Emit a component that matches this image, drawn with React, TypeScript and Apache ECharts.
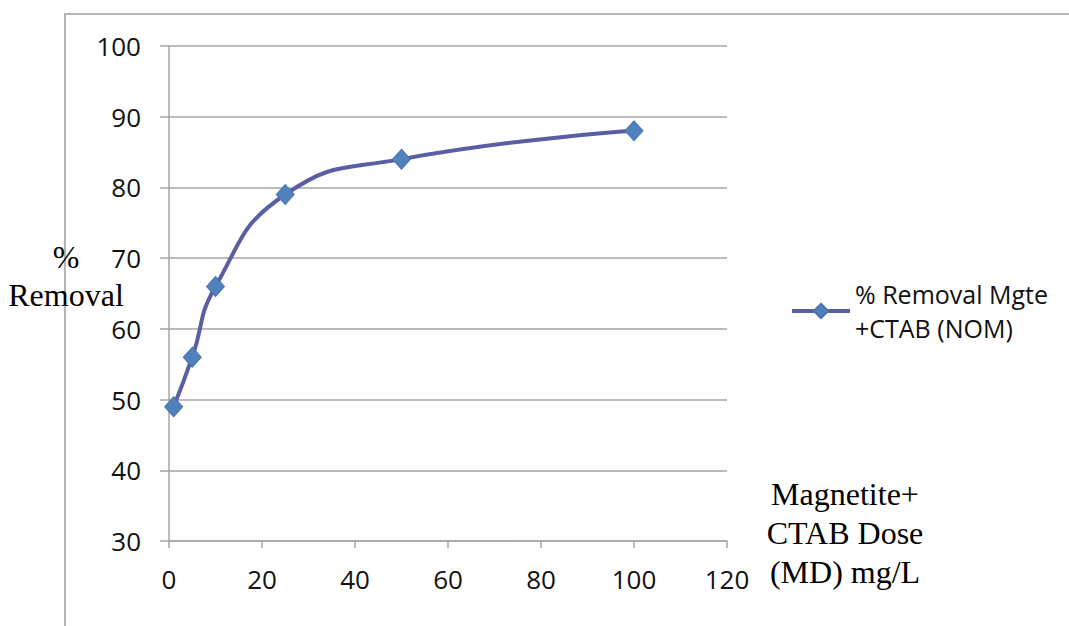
import React, { useEffect, useRef } from "react";
import * as echarts from "echarts";

// Magnetite + CTAB dose (mg/L) vs. % NOM removal
const doses = [1, 5, 10, 25, 50, 100];
const removal = [49, 56, 66, 79, 84, 88];
const seriesName = "% Removal Mgte\n+CTAB (NOM)";
const yTitle = "%\nRemoval";
const xTitle = "Magnetite+\nCTAB Dose\n(MD) mg/L";

const gridColor = "#a6a6a6";
const lineColor = "#5a5ea5";
const tickFont = "'Open Sans', 'Noto Sans', sans-serif";
const serifFont = "'Liberation Serif', 'Times New Roman', serif";

export default function App() {
  const ref = useRef<HTMLDivElement>(null);

  useEffect(() => {
    if (!ref.current) return;
    const chart = echarts.init(ref.current, undefined, { renderer: "svg" });
    chart.setOption({
      animation: false,
      backgroundColor: "#ffffff",
      grid: { left: 169, right: 342, top: 46, bottom: 85, containLabel: false },
      xAxis: {
        type: "value",
        min: 0,
        max: 120,
        interval: 20,
        axisLine: { show: true, lineStyle: { color: gridColor, width: 1.5 } },
        axisTick: { show: true, length: 7, lineStyle: { color: gridColor, width: 1.5 } },
        splitLine: { show: false },
        axisLabel: { color: "#111", fontFamily: tickFont, fontSize: 26, margin: 25 },
      },
      yAxis: {
        type: "value",
        min: 30,
        max: 100,
        interval: 10,
        axisLine: { show: true, lineStyle: { color: gridColor, width: 1.5 } },
        axisTick: { show: true, length: 9, lineStyle: { color: gridColor, width: 1.5 } },
        splitLine: { show: true, lineStyle: { color: gridColor, width: 1.5 } },
        axisLabel: { color: "#111", fontFamily: tickFont, fontSize: 26, margin: 28 },
      },
      legend: {
        show: true,
        left: 785,
        top: 250,
        orient: "vertical",
        itemWidth: 58,
        itemHeight: 18,
        itemGap: 5,
        data: [seriesName],
        lineStyle: { width: 4, color: lineColor },
        textStyle: {
          color: "#111",
          fontFamily: tickFont,
          fontSize: 25,
          lineHeight: 34,
          padding: [44, 0, 0, 0],
        },
      },
      series: [
        {
          name: seriesName,
          type: "line",
          data: doses.map((d, i) => [d, removal[i]]),
          smooth: 0.5,
          symbol: "diamond",
          symbolSize: [18, 20],
          lineStyle: { color: lineColor, width: 4 },
          itemStyle: { color: "#4f81bd", borderColor: "#4a74ad", borderWidth: 1 },
        },
      ],
      graphic: [
        {
          type: "polyline",
          shape: { points: [[65, 626], [65, 14], [1069, 14]] },
          style: { stroke: "#b5b5b5", lineWidth: 2, fill: "none" },
          silent: true,
        },
        {
          type: "text",
          x: 66,
          y: 276,
          style: {
            text: yTitle,
            font: `32px ${serifFont}`,
            fill: "#000",
            align: "center",
            verticalAlign: "middle",
            lineHeight: 38,
          },
        },
        {
          type: "text",
          x: 845,
          y: 533,
          style: {
            text: xTitle,
            font: `32px ${serifFont}`,
            fill: "#000",
            align: "center",
            verticalAlign: "middle",
            lineHeight: 39,
          },
        },
      ],
    });
    return () => chart.dispose();
  }, []);

  return (
    <div
      ref={ref}
      style={{ position: "fixed", left: 0, top: 0, width: 1069, height: 626 }}
    />
  );
}
